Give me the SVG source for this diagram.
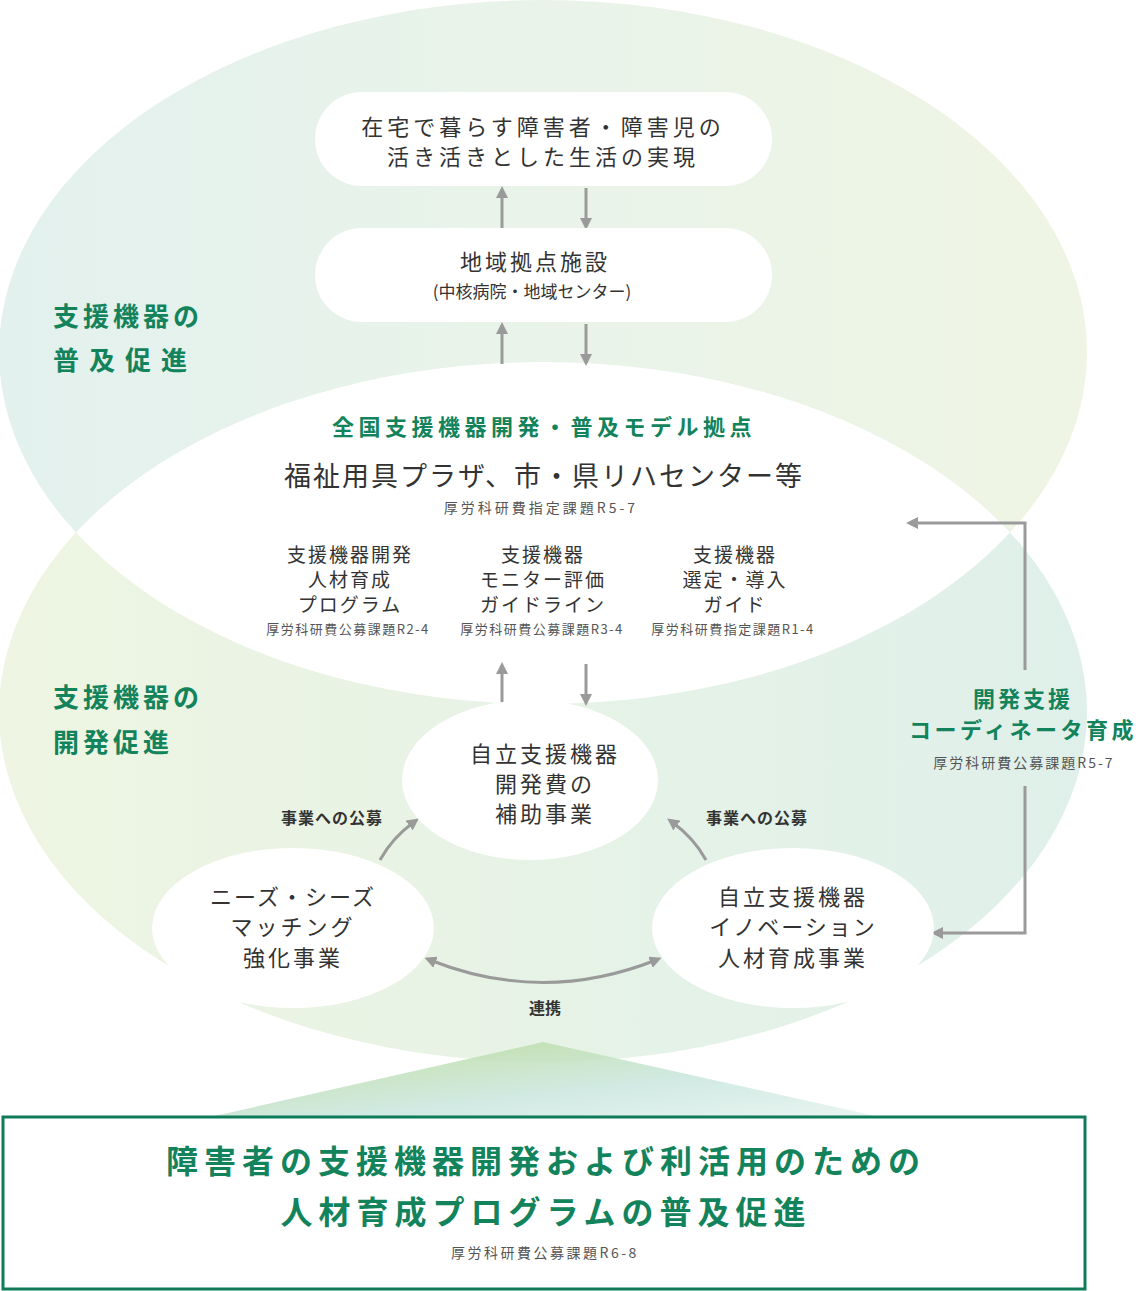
<svg xmlns="http://www.w3.org/2000/svg" width="1140" height="1291" viewBox="0 0 1140 1291">
<style>
.g{font-family:"Noto Sans CJK JP","Noto Sans",sans-serif;fill:#13835c;font-weight:bold}
.t{font-family:"Noto Sans CJK JP","Noto Sans",sans-serif;fill:#333}
.s{font-family:"Noto Sans CJK JP","Noto Sans",sans-serif;fill:#555;font-size:13px;letter-spacing:1.5px}
.c{text-anchor:middle}
.ln{stroke:#9a9a9a;stroke-width:3;fill:none}
</style>
<defs>
<linearGradient id="gt" x1="0" y1="0" x2="1" y2="0"><stop offset="0" stop-color="#e3f1ee"/><stop offset="1" stop-color="#eff5e4"/></linearGradient>
<linearGradient id="gb" x1="0" y1="0" x2="1" y2="0"><stop offset="0" stop-color="#eef5e2"/><stop offset="1" stop-color="#dff0ea"/></linearGradient>
<linearGradient id="tri" x1="0" y1="0" x2="1" y2="1"><stop offset="0" stop-color="#b8d98e"/><stop offset="0.6" stop-color="#c9e6de"/><stop offset="1" stop-color="#e6f3ef"/></linearGradient>
<clipPath id="ct"><ellipse cx="543" cy="352" rx="544" ry="352"/></clipPath>
<marker id="ah" viewBox="0 0 10 10" refX="5" refY="5" markerWidth="4" markerHeight="4" orient="auto-start-reverse"><path d="M0,0L10,5L0,10z" fill="#9a9a9a"/></marker>
</defs>
<ellipse cx="543" cy="352" rx="544" ry="352" fill="url(#gt)"/>
<ellipse cx="543" cy="712" rx="544" ry="350" fill="url(#gb)"/>
<ellipse cx="543" cy="712" rx="544" ry="350" fill="#fff" clip-path="url(#ct)"/>
<polygon points="543,1042 210,1117 880,1117" fill="url(#tri)" opacity="0.85"/>
<g id="connectors">
<path class="ln" d="M502,228V192" marker-end="url(#ah)"/>
<path class="ln" d="M586,188V224" marker-end="url(#ah)"/>
<path class="ln" d="M502,364V328" marker-end="url(#ah)"/>
<path class="ln" d="M586,324V360" marker-end="url(#ah)"/>
<path class="ln" d="M502,704V668" marker-end="url(#ah)"/>
<path class="ln" d="M586,664V700" marker-end="url(#ah)"/>
<path class="ln" d="M380,860Q392,838 414,822" marker-end="url(#ah)"/>
<path class="ln" d="M706,860Q694,838 672,822" marker-end="url(#ah)"/>
<path class="ln" d="M430,960Q543,1005 656,960" marker-start="url(#ah)" marker-end="url(#ah)"/>
<path class="ln" d="M1025,670V523H912" marker-end="url(#ah)"/>
<path class="ln" d="M1025,786V933H937" marker-end="url(#ah)"/>
</g>
<g id="n1"><rect x="315" y="92" width="457" height="94" rx="47" fill="#fff"/>
<text class="t c" x="543" y="135" font-size="22" letter-spacing="4">在宅で暮らす障害者・障害児の</text>
<text class="t c" x="543" y="165" font-size="22" letter-spacing="4">活き活きとした生活の実現</text></g>
<g id="n2"><rect x="315" y="228" width="457" height="94" rx="47" fill="#fff"/>
<text class="t c" x="535" y="270" font-size="22" letter-spacing="3">地域拠点施設</text>
<text class="t c" x="532" y="298" font-size="17">(中核病院・地域センター)</text></g>
<g id="labels">
<text class="g" x="53" y="326" font-size="26" letter-spacing="4">支援機器の</text>
<text class="g" x="53" y="370" font-size="26" letter-spacing="10">普及促進</text>
<text class="g" x="53" y="707" font-size="26" letter-spacing="4">支援機器の</text>
<text class="g" x="53" y="752" font-size="26" letter-spacing="4">開発促進</text>
</g>
<g id="hub">
<text class="g c" x="544" y="435" font-size="22" letter-spacing="4.5">全国支援機器開発・普及モデル拠点</text>
<text class="t c" x="544" y="486" font-size="27" letter-spacing="2">福祉用具プラザ、市・県リハセンター等</text>
<text class="s c" x="541" y="513" style="font-size:14px;letter-spacing:3px">厚労科研費指定課題R5-7</text>
<text class="t c" x="350" y="562" font-size="19" letter-spacing="2">支援機器開発</text>
<text class="t c" x="350" y="587" font-size="19" letter-spacing="2">人材育成</text>
<text class="t c" x="350" y="612" font-size="19" letter-spacing="2">プログラム</text>
<text class="s c" x="348" y="634">厚労科研費公募課題R2-4</text>
<text class="t c" x="543" y="562" font-size="19" letter-spacing="2">支援機器</text>
<text class="t c" x="543" y="587" font-size="19" letter-spacing="2">モニター評価</text>
<text class="t c" x="543" y="612" font-size="19" letter-spacing="2">ガイドライン</text>
<text class="s c" x="542" y="634">厚労科研費公募課題R3-4</text>
<text class="t c" x="735" y="562" font-size="19" letter-spacing="2">支援機器</text>
<text class="t c" x="735" y="587" font-size="19" letter-spacing="2">選定・導入</text>
<text class="t c" x="735" y="612" font-size="19" letter-spacing="2">ガイド</text>
<text class="s c" x="733" y="634">厚労科研費指定課題R1-4</text>
</g>
<g id="n3"><ellipse cx="530" cy="780" rx="128" ry="80" fill="#fff"/>
<text class="t c" x="545" y="762" font-size="22" letter-spacing="3">自立支援機器</text>
<text class="t c" x="545" y="792" font-size="22" letter-spacing="3">開発費の</text>
<text class="t c" x="545" y="822" font-size="22" letter-spacing="3">補助事業</text></g>
<g id="n4"><ellipse cx="293" cy="928" rx="141" ry="80" fill="#fff"/>
<text class="t c" x="293" y="905" font-size="22" letter-spacing="2">ニーズ・シーズ</text>
<text class="t c" x="293" y="935" font-size="22" letter-spacing="3">マッチング</text>
<text class="t c" x="293" y="966" font-size="22" letter-spacing="3">強化事業</text></g>
<g id="n5"><ellipse cx="793" cy="928" rx="141" ry="80" fill="#fff"/>
<text class="t c" x="793" y="905" font-size="22" letter-spacing="3">自立支援機器</text>
<text class="t c" x="793" y="935" font-size="22" letter-spacing="2">イノベーション</text>
<text class="t c" x="793" y="966" font-size="22" letter-spacing="3">人材育成事業</text></g>
<g id="edge-labels">
<text class="t c" x="332" y="824" font-size="16" font-weight="bold" letter-spacing="1">事業への公募</text>
<text class="t c" x="757" y="824" font-size="16" font-weight="bold" letter-spacing="1">事業への公募</text>
<text class="t c" x="545" y="1014" font-size="16" font-weight="bold">連携</text>
<text class="g c" x="1023" y="707" font-size="22" letter-spacing="3">開発支援</text>
<text class="g c" x="1023" y="738" font-size="22" letter-spacing="3.5">コーディネータ育成</text>
<text class="s c" x="1024" y="768" style="font-size:14px;letter-spacing:2px">厚労科研費公募課題R5-7</text>
</g>
<g id="bottom"><rect x="3" y="1117" width="1082" height="172" fill="#fff" stroke="#0f7b5a" stroke-width="3"/>
<text class="g c" x="546" y="1173" font-size="32" letter-spacing="6">障害者の支援機器開発および利活用のための</text>
<text class="g c" x="546" y="1224" font-size="32" letter-spacing="6">人材育成プログラムの普及促進</text>
<text class="s c" x="545" y="1258" style="font-size:14px;letter-spacing:2.5px">厚労科研費公募課題R6-8</text></g>
</svg>
